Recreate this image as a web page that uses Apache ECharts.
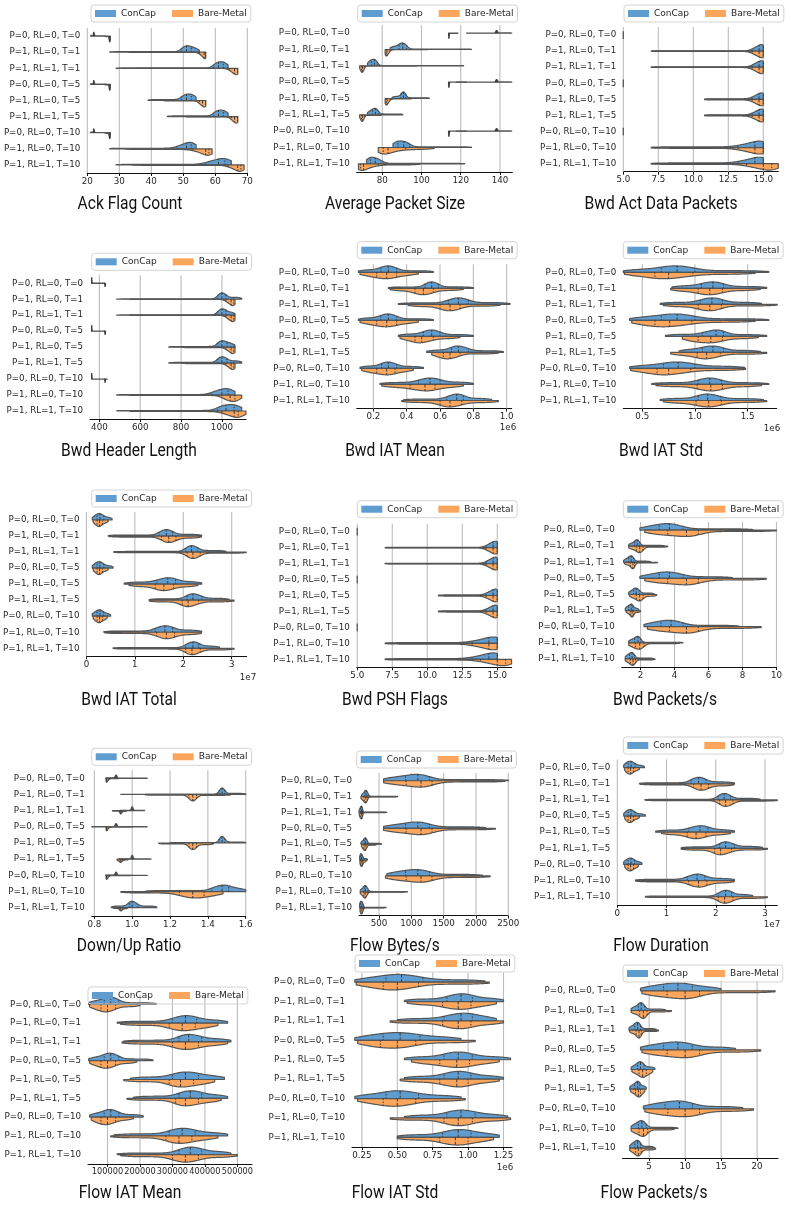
<!DOCTYPE html>
<html>
<head>
<meta charset="utf-8">
<script src="https://cdn.jsdelivr.net/npm/echarts@6/dist/echarts.min.js"></script>
<style>
html,body{margin:0;padding:0;background:#fff}
#chart{width:785px;height:1205px}
</style>
</head>
<body>
<div id="chart"></div>
<script>
// Experiment configurations (one row per configuration)
const rowLabels = ['P=0, RL=0, T=0','P=1, RL=0, T=1','P=1, RL=1, T=1','P=0, RL=0, T=5','P=1, RL=0, T=5','P=1, RL=1, T=5','P=0, RL=0, T=10','P=1, RL=0, T=10','P=1, RL=1, T=10'];
const seriesNames = ['ConCap', 'Bare-Metal'];

// Distribution summaries per row: [min, q1, median, q3, max]
// *Peak arrays: relative peak density of each half (1 = full)
const ackFlagConCap = [[21,22,22,22.3,25.5],[27,49.5,51,52.5,55],[29,59.5,61,62.5,64],[21,22,22,22.3,26],[39,49.5,51,52.5,54],[45,59.5,61,62.5,64],[21,22,22,22.3,26],[27,48,51,52.5,54],[29,57,61,63,65]];
const ackFlagBare = [[25.5,27,27,27,27.2],[33,55,56.5,57,57],[35,64.5,66,67,67],[25.5,27,27,27,27.2],[44,55,56,57,57],[51,65,66,67,67],[25.5,27,27,27,27.2],[32,53,57,58,59],[34,64,67,68,69]];
const ackFlagConCapPeak = [0.6,1,1,0.6,1,1,0.6,1,1];
const ackFlagBarePeak = [0.9,1,1,0.9,1,1,0.9,1,1];
const ackFlagTicks = [20,30,40,50,60,70];

const avgPktConCap = [[123,137.8,138.3,138.8,146],[84,88.5,90.5,92.5,125.5],[72.5,74.5,76,77.5,121.5],[117.8,137.8,138.3,138.8,146],[85,89.5,90.8,92,104],[72.5,75,76.5,78,90.5],[117.8,137.8,138.3,138.8,146],[85.5,88,91,94,125.5],[72,74,76.5,80,122]];
const avgPktBare = [[113.8,114,114,114.2,118.6],[81.5,82,82.5,84,103],[68.5,69.5,70,71,97.5],[113.8,114,114,114.3,123],[81.5,82,82.5,84,95],[68.5,69.5,70,71,79.5],[113.8,114,114,114.3,123],[78,80.5,83,92,106.5],[67.9,69,70.5,78,99]];
const avgPktConCapPeak = [0.4,1,1,0.4,1,1,0.4,1,1];
const avgPktBarePeak = [0.8,1,1,0.8,1,1,0.8,1,1];
const avgPktTicks = [80,100,120,140];

const bwdActConCap = [[5,5,5,5,5],[7,14.2,14.7,15,15],[7,14.2,14.7,15,15],[5,5,5,5,5],[10.8,14.2,14.7,15,15],[10.8,14.2,14.7,15,15],[5,5,5,5,5],[7,13.2,14.4,15,15],[7,13.2,14.4,15,15]];
const bwdActBare = [[5,5,5,5,5],[7,14.2,14.7,15,15],[7,14.2,14.7,15,15],[5,5,5,5,5],[10.8,14.2,14.7,15,15],[10.8,14.2,14.7,15,15],[5,5,5,5,5],[7,13.2,14.4,15,15],[7,13.8,15,15.6,16.07]];
const bwdActPeak = [0.6,1,1,0.6,1,1,0.6,1,1];
const bwdActTicks = [5,7.5,10,12.5,15];

const bwdHdrConCap = [[362,362,362,363,428],[485,980,1000,1020,1097],[485,980,1000,1020,1064],[362,362,362,363,428],[740,980,1000,1025,1064],[740,980,1000,1025,1097],[362,362,362,363,439],[485,950,1000,1030,1064],[485,980,1020,1060,1097]];
const bwdHdrBare = [[425,428,428,428,430],[550,1020,1045,1058,1064],[550,1020,1045,1058,1064],[425,428,428,428,430],[805,1020,1045,1058,1064],[805,1020,1045,1058,1064],[425,428,428,428,430],[550,1000,1040,1064,1097],[550,1000,1060,1080,1118]];
const bwdHdrConCapPeak = [0.9,1,1,0.9,1,1,0.9,1,1];
const bwdHdrBarePeak = [0.5,1,1,0.5,1,1,0.5,1,1];
const bwdHdrTicks = [400,600,800,1000];

const bwdIatMeanConCap = [[0.11,0.245,0.29,0.34,0.56],[0.29,0.51,0.55,0.59,0.8],[0.35,0.65,0.71,0.77,1.02],[0.11,0.245,0.29,0.34,0.56],[0.35,0.5,0.55,0.6,0.8],[0.52,0.67,0.71,0.77,0.98],[0.12,0.25,0.29,0.34,0.5],[0.24,0.47,0.54,0.6,0.8],[0.38,0.64,0.7,0.74,0.91]];
const bwdIatMeanBare = [[0.12,0.22,0.28,0.34,0.47],[0.3,0.45,0.5,0.56,0.74],[0.41,0.6,0.66,0.72,0.96],[0.12,0.22,0.28,0.34,0.47],[0.36,0.45,0.49,0.56,0.72],[0.55,0.62,0.66,0.72,0.95],[0.13,0.22,0.28,0.33,0.44],[0.25,0.42,0.51,0.57,0.74],[0.37,0.6,0.66,0.73,0.95]];
const bwdIatMeanTicks = [0.2,0.4,0.6,0.8,1.0];

const bwdIatStdConCap = [[0.32,0.68,0.83,1.0,1.7],[0.78,1.06,1.17,1.27,1.68],[0.67,1.05,1.16,1.26,1.63],[0.38,0.68,0.83,1.0,1.7],[0.72,1.07,1.2,1.27,1.68],[0.85,1.07,1.17,1.27,1.62],[0.38,0.7,0.84,1.0,1.47],[0.59,1.03,1.14,1.25,1.7],[0.67,1.03,1.12,1.24,1.65]];
const bwdIatStdBare = [[0.33,0.62,0.75,0.98,1.57],[0.77,1.03,1.14,1.26,1.62],[0.7,1.03,1.14,1.25,1.78],[0.4,0.62,0.76,0.97,1.57],[0.88,1.03,1.15,1.26,1.6],[0.77,1.02,1.11,1.24,1.68],[0.39,0.64,0.75,0.96,1.48],[0.63,1.02,1.15,1.26,1.63],[0.7,1.01,1.13,1.25,1.68]];
const bwdIatStdTicks = [0.5,1.0,1.5];

const bwdIatTotConCap = [[0.12,0.22,0.28,0.36,0.53],[0.45,1.5,1.65,1.78,2.38],[0.56,2.05,2.17,2.3,2.88],[0.12,0.22,0.28,0.36,0.55],[0.78,1.45,1.68,1.84,2.38],[1.3,2.08,2.2,2.38,2.95],[0.12,0.22,0.28,0.35,0.5],[0.36,1.42,1.62,1.78,2.38],[0.55,2.05,2.2,2.32,2.75]];
const bwdIatTotBare = [[0.14,0.22,0.27,0.33,0.45],[0.47,1.55,1.7,1.85,2.37],[0.58,2.08,2.2,2.35,3.3],[0.14,0.22,0.27,0.33,0.45],[0.88,1.42,1.6,1.8,2.3],[1.3,1.98,2.1,2.32,3.05],[0.14,0.22,0.27,0.33,0.43],[0.38,1.45,1.65,1.82,2.37],[0.58,2.05,2.18,2.35,3.05]];
const bwdIatTotTicks = [0,1,2,3];

const bwdPshConCap = [[5,5,5,5,5],[7,14.2,14.7,15,15],[7,14.2,14.7,15,15],[5,5,5,5,5],[10.8,14.2,14.7,15,15],[10.8,14.2,14.7,15,15],[5,5,5,5,5],[7,13.2,14.4,15,15],[7,13.2,14.4,15,15]];
const bwdPshBare = [[5,5,5,5,5],[7,14.2,14.7,15,15],[7,14.2,14.7,15,15],[5,5,5,5,5],[10.8,14.2,14.7,15,15],[10.8,14.2,14.7,15,15],[5,5,5,5,5],[7,13.2,14.4,15,15],[7,13.8,15,15.6,16.02]];
const bwdPshPeak = [0.6,1,1,0.6,1,1,0.6,1,1];
const bwdPshTicks = [5,7.5,10,12.5,15];

const bwdPktConCap = [[1.96,3.1,3.7,4.5,8.6],[1.3,1.65,1.8,1.95,3.4],[1.0,1.3,1.45,1.6,2.6],[1.96,3.1,3.7,4.5,7.4],[1.3,1.6,1.75,1.95,2.8],[1.1,1.3,1.45,1.55,1.9],[2.2,3.2,3.8,4.5,7.8],[1.3,1.65,1.85,2.0,4.5],[1.1,1.35,1.5,1.65,2.75]];
const bwdPktBare = [[2.25,3.6,4.7,5.4,10],[1.3,1.75,1.95,2.15,3.6],[1.05,1.4,1.55,1.65,3.0],[2.25,3.6,4.7,5.4,9.4],[1.35,1.75,1.95,2.15,2.95],[1.15,1.4,1.5,1.6,2.0],[2.4,3.7,4.7,5.4,9.1],[1.3,1.7,1.95,2.2,4.3],[1.1,1.4,1.55,1.7,2.85]];
const bwdPktTicks = [2,4,6,8,10];

const downUpConCap = [[0.86,0.91,0.915,0.92,1.08],[0.94,1.46,1.475,1.49,1.6],[0.935,0.995,1.0,1.005,1.065],[0.786,0.91,0.915,0.92,1.08],[1.2,1.46,1.475,1.49,1.6],[0.93,0.995,1.0,1.005,1.1],[0.86,0.91,0.915,0.92,1.08],[1.07,1.42,1.475,1.51,1.6],[0.89,0.985,1.0,1.03,1.13]];
const downUpBare = [[0.862,0.865,0.866,0.88,0.93],[1.07,1.3,1.32,1.34,1.52],[0.895,0.935,0.94,0.945,0.97],[0.862,0.865,0.866,0.88,1.0],[1.14,1.3,1.32,1.34,1.43],[0.92,0.935,0.94,0.95,0.98],[0.862,0.865,0.866,0.88,1.0],[0.94,1.25,1.32,1.38,1.48],[0.9,0.935,0.94,0.95,0.975]];
const downUpConCapPeak = [0.5,1,0.6,0.5,1,0.6,0.5,1,1];
const downUpBarePeak = [0.6,1,0.5,0.6,1,0.5,0.6,1,0.5];
const downUpTicks = [0.8,1.0,1.2,1.4,1.6];

const flowBytesConCap = [[570,910,1100,1280,2500],[230,280,300,330,790],[190,215,230,245,620],[570,910,1100,1280,2150],[220,270,290,320,540],[200,215,230,250,320],[620,910,1100,1280,2100],[210,270,290,330,940],[200,215,235,255,610]];
const flowBytesBare = [[570,920,1150,1320,2450],[220,270,295,320,760],[195,215,230,245,600],[570,920,1150,1320,2300],[230,265,285,310,460],[205,220,235,250,300],[600,920,1150,1320,2220],[210,265,285,320,900],[205,220,235,255,580]];
const flowBytesTicks = [500,1000,1500,2000,2500];

const flowDurConCap = [[0.13,0.22,0.28,0.36,0.55],[0.45,1.5,1.65,1.8,2.38],[0.56,2.05,2.17,2.3,2.9],[0.13,0.22,0.28,0.36,0.57],[0.78,1.45,1.68,1.84,2.38],[1.3,2.08,2.2,2.38,2.95],[0.13,0.22,0.28,0.35,0.5],[0.37,1.42,1.62,1.78,2.38],[0.57,2.05,2.2,2.32,2.75]];
const flowDurBare = [[0.15,0.22,0.27,0.33,0.45],[0.47,1.55,1.7,1.85,2.37],[0.58,2.08,2.2,2.35,3.25],[0.15,0.22,0.27,0.33,0.45],[0.9,1.42,1.6,1.8,2.3],[1.3,1.98,2.1,2.32,3.05],[0.15,0.22,0.27,0.33,0.43],[0.38,1.45,1.65,1.82,2.37],[0.58,2.05,2.18,2.35,3.05]];
const flowDurTicks = [0,1,2,3];

const flowIatMeanConCap = [[42000,90000,110000,135000,250000],[130000,300000,340000,375000,470000],[150000,320000,350000,390000,480000],[42000,90000,110000,135000,240000],[170000,300000,340000,380000,460000],[180000,320000,355000,390000,470000],[45000,90000,110000,135000,210000],[120000,290000,330000,370000,470000],[130000,320000,355000,390000,480000]];
const flowIatMeanBare = [[45000,80000,100000,125000,200000],[140000,290000,330000,370000,440000],[145000,300000,340000,380000,470000],[45000,80000,100000,125000,190000],[150000,290000,325000,365000,430000],[160000,310000,340000,380000,450000],[50000,80000,100000,125000,180000],[110000,280000,320000,360000,440000],[140000,300000,340000,380000,500000]];
const flowIatMeanTicks = [100000,200000,300000,400000,500000];

const flowIatStdConCap = [[0.2,0.42,0.53,0.68,1.12],[0.55,0.85,0.95,1.03,1.25],[0.5,0.83,0.95,1.03,1.2],[0.2,0.4,0.52,0.66,0.95],[0.55,0.83,0.93,1.03,1.3],[0.55,0.83,0.93,1.02,1.25],[0.2,0.42,0.52,0.65,0.95],[0.55,0.85,0.95,1.05,1.28],[0.5,0.82,0.93,1.02,1.22]];
const flowIatStdBare = [[0.21,0.4,0.5,0.65,1.15],[0.57,0.82,0.93,1.02,1.2],[0.45,0.82,0.93,1.02,1.25],[0.22,0.38,0.5,0.63,1.05],[0.6,0.8,0.92,1.01,1.22],[0.52,0.8,0.92,1.0,1.22],[0.22,0.4,0.5,0.63,0.98],[0.45,0.83,0.93,1.03,1.3],[0.5,0.8,0.91,1.0,1.18]];
const flowIatStdTicks = [0.25,0.5,0.75,1.0,1.25];

const flowPktConCap = [[3.8,7.0,9.0,11.0,15],[2.5,3.5,3.9,4.4,7.3],[2.2,3.0,3.4,3.8,6],[3.8,7.0,9.0,11.0,17],[2.5,3.4,3.8,4.3,5.8],[2.3,3.0,3.4,3.7,4.6],[4.2,7.2,9.2,11,18],[2.5,3.5,4.0,4.6,9],[2.3,3.0,3.4,3.8,5.7]];
const flowPktBare = [[4.0,7.5,10,12,22.5],[2.5,3.7,4.2,4.7,8.1],[2.3,3.2,3.6,3.9,6.3],[4,7.5,10,12,20.5],[2.6,3.6,4.1,4.6,5.5],[2.4,3.1,3.5,3.8,4.4],[4.4,7.6,10,12,19.5],[2.5,3.6,4.2,4.8,8.5],[2.3,3.1,3.5,3.9,5.9]];
const flowPktTicks = [5,10,15,20];

// ---- panel layout (pixel boxes, axis ranges, captions) ----
const panels = [
  {title:'Ack Flag Count', con:ackFlagConCap, bare:ackFlagBare, conPeak:ackFlagConCapPeak, barePeak:ackFlagBarePeak, ticks:ackFlagTicks, dec:0, min:20, max:70, box:[87.3,28,247.3,173], legend:[91,5], cap:[130,204]},
  {title:'Average Packet Size', con:avgPktConCap, bare:avgPktBare, conPeak:avgPktConCapPeak, barePeak:avgPktBarePeak, ticks:avgPktTicks, dec:0, min:67, max:146.3, box:[356.7,25,512.3,172], legend:[357.7,5], cap:[395,204]},
  {title:'Bwd Act Data Packets', con:bwdActConCap, bare:bwdActBare, conPeak:bwdActPeak, barePeak:bwdActPeak, ticks:bwdActTicks, dec:1, min:5, max:16.07, box:[623.3,27,778.3,171.7], legend:[624,5], cap:[661,204]},
  {title:'Bwd Header Length', con:bwdHdrConCap, bare:bwdHdrBare, conPeak:bwdHdrConCapPeak, barePeak:bwdHdrBarePeak, ticks:bwdHdrTicks, dec:0, min:354, max:1118, box:[90,275.3,246,419], legend:[91.7,253.3], cap:[129,451]},
  {title:'Bwd IAT Mean', con:bwdIatMeanConCap, bare:bwdIatMeanBare, ticks:bwdIatMeanTicks, dec:1, min:0.1, max:1.03, box:[356.7,264.3,511.7,408.5], legend:[357.3,241.7], cap:[395,451], exp:['1e6',508,428]},
  {title:'Bwd IAT Std', con:bwdIatStdConCap, bare:bwdIatStdBare, ticks:bwdIatStdTicks, dec:1, min:0.32, max:1.775, box:[623.3,264.3,776.7,408.5], legend:[623.3,241.7], cap:[661,451], exp:['1e6',772,429]},
  {title:'Bwd IAT Total', con:bwdIatTotConCap, bare:bwdIatTotBare, ticks:bwdIatTotTicks, dec:0, min:0, max:3.31, box:[86,512,246.7,656.3], legend:[91.7,490], cap:[129,700], exp:['1e7',248,678]},
  {title:'Bwd PSH Flags', con:bwdPshConCap, bare:bwdPshBare, conPeak:bwdPshPeak, barePeak:bwdPshPeak, ticks:bwdPshTicks, dec:1, min:4.96, max:16.03, box:[356.7,523.7,511.7,667.3], legend:[357.3,500.7], cap:[395,700]},
  {title:'Bwd Packets/s', con:bwdPktConCap, bare:bwdPktBare, ticks:bwdPktTicks, dec:0, min:0.89, max:10, box:[621.7,522,777.3,667], legend:[623.3,500.7], cap:[665,700]},
  {title:'Down/Up Ratio', con:downUpConCap, bare:downUpBare, conPeak:downUpConCapPeak, barePeak:downUpBarePeak, ticks:downUpTicks, dec:1, min:0.786, max:1.6, box:[91.7,770.2,245.7,915.8], legend:[91.7,748.3], cap:[129,946]},
  {title:'Flow Bytes/s', con:flowBytesConCap, bare:flowBytesBare, ticks:flowBytesTicks, dec:0, min:190, max:2500, box:[359,772.8,508.3,915.6], legend:[356.7,751], cap:[395,946]},
  {title:'Flow Duration', con:flowDurConCap, bare:flowDurBare, ticks:flowDurTicks, dec:0, min:0, max:3.25, box:[617.3,759.6,777.3,904.8], legend:[623.3,737], cap:[661,946], exp:['1e7',772,925]},
  {title:'Flow IAT Mean', con:flowIatMeanConCap, bare:flowIatMeanBare, ticks:flowIatMeanTicks, dec:0, min:40000, max:545000, box:[88,995,252,1164], legend:[88,987], cap:[130,1193], tickFont:8.2},
  {title:'Flow IAT Std', con:flowIatStdConCap, bare:flowIatStdBare, ticks:flowIatStdTicks, dec:2, min:0.18, max:1.31, box:[352,972.5,512,1147], legend:[355,955], cap:[395,1193], exp:['1e6',505,1168]},
  {title:'Flow Packets/s', con:flowPktConCap, bare:flowPktBare, ticks:flowPktTicks, dec:0, min:1.3, max:22.9, box:[622.5,981,778,1158], legend:[623,965], cap:[654,1193]}
];

const COLORS = ['#5f9ccf', '#fba65c'];
const EDGE = '#555555';
const GRIDLINE = '#bcbcbc';
const TICK_FONT = 'DejaVu Sans';
const CAPTION_FONT = 'Roboto';

// Smoothed density of one half-violin, built from its five-number summary
function halfProfile(q, peak) {
  const lo = q[0], hi = q[4];
  const range = hi - lo;
  if (!(range > 0)) return {degenerate: true, lo: lo, hi: hi, peak: peak};
  const N = 400, s = new Array(N);
  for (let i = 0; i < N; i++) {
    const p = (i + 0.5) / N * 4;
    const k = Math.min(3, Math.floor(p));
    const f = p - k;
    s[i] = q[k] + (q[k + 1] - q[k]) * f;
  }
  let mean = 0; for (const v of s) mean += v; mean /= N;
  let varr = 0; for (const v of s) varr += (v - mean) * (v - mean);
  const sd = Math.sqrt(varr / N);
  const iqr = q[3] - q[1];
  const spread = iqr > 0 ? Math.min(sd, iqr / 1.34) : sd;
  const bw = Math.max(0.45 * spread, range / 90);
  const M = 140, xs = [], ds = [];
  let dmax = 0;
  for (let j = 0; j < M; j++) {
    const x = lo + range * j / (M - 1);
    let d = 0;
    for (let i = 0; i < N; i++) { const z = (x - s[i]) / bw; d += Math.exp(-0.5 * z * z); }
    xs.push(x); ds.push(d); if (d > dmax) dmax = d;
  }
  for (let j = 0; j < M; j++) ds[j] = ds[j] / dmax * peak;
  return {degenerate: false, lo: lo, hi: hi, xs: xs, ds: ds, quart: [q[1], q[2], q[3]], peak: peak};
}

function densityAt(prof, x) {
  const xs = prof.xs, ds = prof.ds;
  if (x <= xs[0]) return ds[0];
  if (x >= xs[xs.length - 1]) return ds[ds.length - 1];
  const t = (x - xs[0]) / (xs[xs.length - 1] - xs[0]) * (xs.length - 1);
  const k = Math.floor(t), f = t - k;
  return ds[k] + (ds[k + 1] - ds[k]) * f;
}

const profiles = panels.map(p => [
  p.con.map((q, r) => halfProfile(q, p.conPeak ? p.conPeak[r] : 1)),
  p.bare.map((q, r) => halfProfile(q, p.barePeak ? p.barePeak[r] : 1))
]);

function violinRenderer(pi, side) {
  return function (params, api) {
    const r = params.dataIndex;
    const prof = profiles[pi][side][r];
    const band = api.size([0, 1])[1];
    const hw = band * 0.4;
    const yc = api.coord([prof.lo, r])[1];
    const dir = side === 0 ? -1 : 1;
    if (prof.degenerate) {
      const x0 = api.coord([prof.lo, r])[0];
      return {type: 'line', shape: {x1: x0, y1: yc, x2: x0, y2: yc + dir * hw * prof.peak},
        style: {stroke: EDGE, lineWidth: 1.3}};
    }
    const pts = [];
    for (let j = 0; j < prof.xs.length; j++) {
      pts.push([api.coord([prof.xs[j], r])[0], yc + dir * prof.ds[j] * hw]);
    }
    pts.push([api.coord([prof.hi, r])[0], yc]);
    pts.push([api.coord([prof.lo, r])[0], yc]);
    const children = [{type: 'polygon', shape: {points: pts},
      style: {fill: COLORS[side], stroke: EDGE, lineWidth: 1.2, lineJoin: 'round'}}];
    prof.quart.forEach((v, k) => {
      const px = api.coord([v, r])[0];
      const d = densityAt(prof, v);
      children.push({type: 'line', shape: {x1: px, y1: yc, x2: px, y2: yc + dir * d * hw},
        style: {stroke: '#3a3a3a', lineWidth: 1, lineDash: k === 1 ? [3, 1.5] : [1.5, 1.5]}});
    });
    return {type: 'group', children: children};
  };
}

function gridLineRenderer(params, api) {
  const cs = params.coordSys;
  const x = api.coord([api.value(0), 0])[0];
  return {type: 'line', shape: {x1: x, y1: cs.y, x2: x, y2: cs.y + cs.height},
    style: {stroke: GRIDLINE, lineWidth: 1.1}};
}

const option = {
  animation: false,
  backgroundColor: '#ffffff',
  grid: [], xAxis: [], yAxis: [], series: [], legend: [], graphic: []
};

panels.forEach((p, i) => {
  const [L, T, R, B] = p.box;
  option.grid.push({left: L, top: T, width: R - L, height: B - T, containLabel: false});
  option.xAxis.push({
    type: 'value', gridIndex: i, min: p.min, max: p.max,
    axisLine: {show: true, lineStyle: {color: '#111', width: 1}},
    axisTick: {show: true, length: 3, customValues: p.ticks, lineStyle: {color: '#111'}},
    axisLabel: {customValues: p.ticks, fontSize: p.tickFont || 8.7, fontFamily: TICK_FONT, color: '#262626', margin: 4,
      hideOverlap: false, showMinLabel: true, showMaxLabel: true,
      formatter: v => Number(v).toFixed(p.dec)},
    splitLine: {show: false}
  });
  option.yAxis.push({
    type: 'category', gridIndex: i, data: rowLabels, inverse: true,
    axisLine: {show: false}, axisTick: {show: false}, splitLine: {show: false},
    axisLabel: {fontSize: 8.7, fontFamily: TICK_FONT, color: '#262626', margin: 7, interval: 0}
  });
  option.series.push({
    type: 'custom', name: 'grid-' + i, xAxisIndex: i, yAxisIndex: i, z: 1, silent: true,
    renderItem: gridLineRenderer, data: p.ticks.map(v => [v, 0]), encode: {x: 0, y: 1}
  });
  [0, 1].forEach(side => {
    option.series.push({
      type: 'custom', name: seriesNames[side], xAxisIndex: i, yAxisIndex: i, z: 3,
      itemStyle: {color: COLORS[side]},
      renderItem: violinRenderer(i, side),
      data: (side === 0 ? p.con : p.bare).map((q, r) => [q[2], r]),
      encode: {x: 0, y: 1}
    });
  });
  option.legend.push({
    left: p.legend[0], top: p.legend[1], data: seriesNames, icon: 'rect',
    itemWidth: 21, itemHeight: 7, itemGap: 16, padding: [4, 4, 4, 4],
    borderColor: '#d4d4d4', borderWidth: 1, borderRadius: 3, selectedMode: false,
    textStyle: {fontSize: 9, fontFamily: TICK_FONT, color: '#262626'}
  });
  option.graphic.push({type: 'text', x: p.cap[0], y: p.cap[1], scaleX: 0.82, silent: true,
    style: {text: p.title, font: '19px ' + CAPTION_FONT, fill: '#111', textAlign: 'center', textVerticalAlign: 'middle'}});
  if (p.exp) {
    option.graphic.push({type: 'text', x: p.exp[1], y: p.exp[2], silent: true,
      style: {text: p.exp[0], font: '8.7px ' + TICK_FONT, fill: '#262626', textAlign: 'center', textVerticalAlign: 'middle'}});
  }
});

const chart = echarts.init(document.getElementById('chart'), null, {renderer: 'canvas'});
chart.setOption(option);
</script>
</body>
</html>
